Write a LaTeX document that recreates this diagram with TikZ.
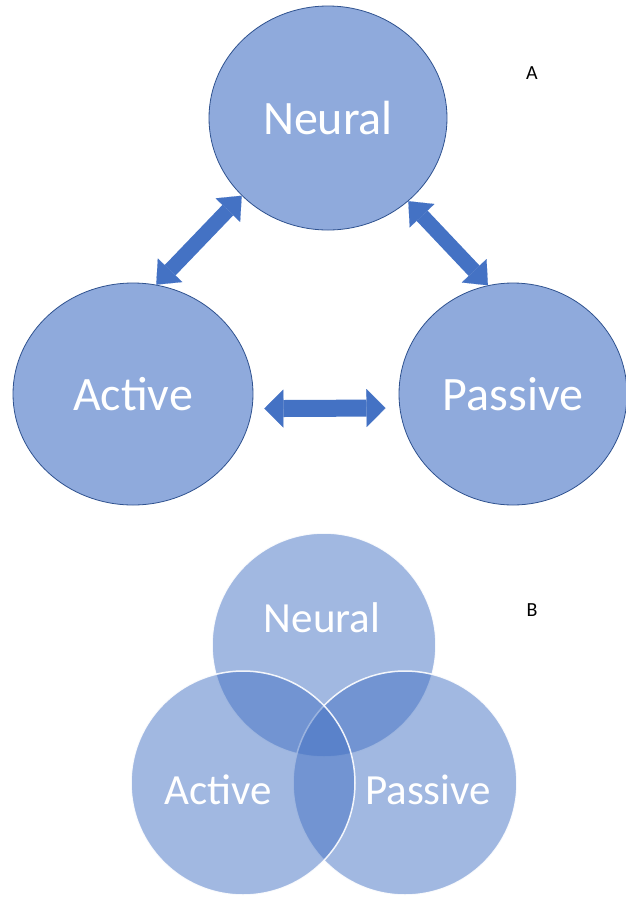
\documentclass[tikz,border=0pt]{standalone}
\usepackage{fontspec}
\setmainfont{Carlito}
\usepackage{xcolor}
\usepackage{tikz}
\usetikzlibrary{shapes.geometric, arrows.meta, positioning}
\definecolor{offblue}{HTML}{4472C4}
\definecolor{lightblue}{HTML}{8FAADC}
\definecolor{edgeblue}{HTML}{2F528F}
\tikzstyle{bubble} = [ellipse, draw=edgeblue, line width=0.8pt, fill=lightblue, inner sep=0pt, text=white, font=\fontsize{48}{58}\selectfont]
\tikzstyle{venn} = [circle, draw=white, line width=1.5pt, fill=offblue, fill opacity=0.5, draw opacity=0.9, minimum size=224pt, inner sep=0pt]
\tikzstyle{venntext} = [text=white, font=\fontsize{43}{52}\selectfont]
\tikzstyle{tag} = [font=\fontsize{20}{24}\selectfont]
\tikzstyle{blockarrow} = [draw=offblue, line width=15pt, {Triangle[width=34pt,length=20pt,line width'=0.1pt]}-{Triangle[width=34pt,length=20pt,line width'=0.1pt]}]
\tikzstyle{flatarrow} = [draw=offblue, line width=17pt, {Triangle[width=38pt,length=19pt,line width'=0.1pt]}-{Triangle[width=38pt,length=19pt,line width'=0.1pt]}]

\begin{document}
\begin{tikzpicture}[x=1pt, y=-1pt]
\useasboundingbox[fill=white] (0,0) rectangle (626,898);

% A: three ellipses
\node[bubble, minimum width=238pt, minimum height=224pt] (neural) at (328,118) {Neural};
\node[bubble, minimum width=240pt, minimum height=222pt] (active) at (133,394) {Active};
\node[bubble, minimum width=228pt, minimum height=222pt] (passive) at (513,394) {Passive};
\node[tag] (taga) at (532,73) {A};

% A: two-way arrows
\draw[blockarrow] (active.78) -- (neural.222);
\draw[blockarrow] (neural.314) -- (passive.103);
\draw[flatarrow, shorten <=12pt, shorten >=14pt] (active.-7) -- (passive.187);

% B: overlapping circles
\node[venn] (vneural) at (324,645) {};
\node[venn] (vpassive) at (405,783) {};
\node[venn] (vactive) at (243,783) {};
\node[tag] (tagb) at (532,610) {B};

\node[venntext] (tneural) at (322,618) {Neural};
\node[venntext] (tactive) at (218,790) {Active};
\node[venntext] (tpassive) at (428,790) {Passive};

\end{tikzpicture}
\end{document}
